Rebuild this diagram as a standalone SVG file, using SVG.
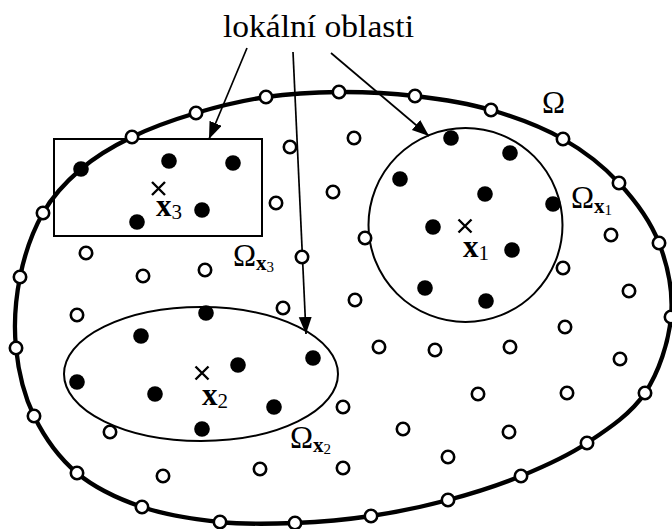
<svg xmlns="http://www.w3.org/2000/svg" width="672" height="529" viewBox="0 0 672 529">
<style>
.bd{fill:none;stroke:#000;stroke-width:4.3}
.reg{fill:none;stroke:#000;stroke-width:2}
.o{fill:#fff;stroke:#000;stroke-width:2.6}
.f{fill:#000}
.cr{stroke:#000;stroke-width:2.4}
.ar{stroke:#000;stroke-width:1.7;fill:none}
text{font-family:"Liberation Serif","Times New Roman",serif;fill:#000}
.b{font-weight:bold}
</style>
<defs>
<marker id="ah" markerUnits="userSpaceOnUse" markerWidth="18" markerHeight="14" refX="17" refY="6.5" orient="auto">
<path d="M0,0 L17,6.5 L0,13 Z" fill="#000"/>
</marker>
</defs>
<rect width="672" height="529" fill="#fff"/>
<g id="domain">
<path class="bd" d="M16,348 C13.67,324.83 15.5,299.5 20,277 C24.5,254.5 32.83,231 43,213 C53.17,195 66.17,181.67 81,169 C95.83,156.33 112.83,146.33 132,137 C151.17,127.67 173.67,119.67 196,113 C218.330,106.33 242.17,100.5 266,97 C289.83,93.5 314.17,92.17 339,92 C363.83,91.83 389.67,93 415,96 C440.33,99 466.33,102.83 491,110 C515.67,117.17 541.67,126.83 563,139 C584.33,151.17 603,165.67 619,183 C635,200.33 650.33,220.67 659,243 C667.67,265.33 673.33,292 671,317 C668.67,342 659,372 645,393 C631,414 607.67,429.17 587,443 C566.33,456.83 544.17,466.5 521,476 C497.83,485.5 473,493.33 448,500 C423,506.67 396.5,512.17 371,516 C345.5,519.83 320.17,522 295,523 C269.83,524 245.5,524.67 220,522 C194.5,519.33 165.83,515.17 142,507 C118.17,498.83 95,488.17 77,473 C59,457.83 44.17,436.83 34,416 C23.83,395.17 18.33,371.17 16,348 Z"/>
<text x="542" y="113" font-size="31">Ω</text>
</g>
<g id="region3">
<rect class="reg" x="54" y="139" width="208" height="97"/>
<text x="233" y="266" font-size="31">Ω<tspan class="b" font-size="21" dy="4">x</tspan><tspan font-size="15" dy="2">3</tspan></text>
</g>
<g id="region1">
<circle class="reg" cx="465.5" cy="225" r="97"/>
<text x="571" y="208" font-size="31">Ω<tspan class="b" font-size="21" dy="5">x</tspan><tspan font-size="15" dy="2">1</tspan></text>
</g>
<g id="region2">
<ellipse class="reg" cx="201" cy="374" rx="137" ry="67"/>
<text x="290" y="448" font-size="31">Ω<tspan class="b" font-size="21" dy="4">x</tspan><tspan font-size="15" dy="2">2</tspan></text>
</g>
<g id="boundary-nodes">
<circle class="o" cx="16" cy="348" r="6.2"/>
<circle class="o" cx="20" cy="277" r="6.2"/>
<circle class="o" cx="43" cy="213" r="6.2"/>
<circle class="f" cx="81" cy="169" r="7.8"/>
<circle class="o" cx="132" cy="137" r="6.2"/>
<circle class="o" cx="196" cy="113" r="6.2"/>
<circle class="o" cx="266" cy="97" r="6.2"/>
<circle class="o" cx="339" cy="92" r="6.2"/>
<circle class="o" cx="415" cy="96" r="6.2"/>
<circle class="o" cx="491" cy="110" r="6.2"/>
<circle class="o" cx="563" cy="139" r="6.2"/>
<circle class="o" cx="619" cy="183" r="6.2"/>
<circle class="o" cx="659" cy="243" r="6.2"/>
<circle class="o" cx="671" cy="317" r="6.2"/>
<circle class="o" cx="645" cy="393" r="6.2"/>
<circle class="o" cx="587" cy="443" r="6.2"/>
<circle class="o" cx="521" cy="476" r="6.2"/>
<circle class="o" cx="448" cy="500" r="6.2"/>
<circle class="o" cx="371" cy="516" r="6.2"/>
<circle class="o" cx="295" cy="523" r="6.2"/>
<circle class="o" cx="220" cy="522" r="6.2"/>
<circle class="o" cx="142" cy="507" r="6.2"/>
<circle class="o" cx="77" cy="473" r="6.2"/>
<circle class="o" cx="34" cy="416" r="6.2"/>
</g>
<g id="connectors">
<line class="ar" x1="247" y1="48" x2="209" y2="139" marker-end="url(#ah)"/>
<line class="ar" x1="293" y1="52" x2="306" y2="334" marker-end="url(#ah)"/>
<line class="ar" x1="331" y1="53" x2="429" y2="136" marker-end="url(#ah)"/>
</g>
<g id="interior-nodes">
<circle class="o" cx="290" cy="147" r="6.2"/>
<circle class="o" cx="354" cy="138" r="6.2"/>
<circle class="o" cx="333" cy="192" r="6.2"/>
<circle class="o" cx="276" cy="203" r="6.2"/>
<circle class="o" cx="365" cy="238" r="6.2"/>
<circle class="o" cx="302" cy="257" r="6.2"/>
<circle class="o" cx="86" cy="253" r="6.2"/>
<circle class="o" cx="143" cy="276" r="6.2"/>
<circle class="o" cx="205" cy="270" r="6.2"/>
<circle class="o" cx="77" cy="315" r="6.2"/>
<circle class="o" cx="283" cy="308" r="6.2"/>
<circle class="o" cx="110" cy="432" r="6.2"/>
<circle class="o" cx="163" cy="476" r="6.2"/>
<circle class="o" cx="260" cy="469" r="6.2"/>
<circle class="o" cx="355" cy="300" r="6.2"/>
<circle class="o" cx="379" cy="347" r="6.2"/>
<circle class="o" cx="435" cy="350" r="6.2"/>
<circle class="o" cx="510" cy="347" r="6.2"/>
<circle class="o" cx="563" cy="268" r="6.2"/>
<circle class="o" cx="629" cy="291" r="6.2"/>
<circle class="o" cx="611" cy="235" r="6.2"/>
<circle class="o" cx="565" cy="327" r="6.2"/>
<circle class="o" cx="620" cy="359" r="6.2"/>
<circle class="o" cx="478" cy="394" r="6.2"/>
<circle class="o" cx="567" cy="393" r="6.2"/>
<circle class="o" cx="343" cy="407" r="6.2"/>
<circle class="o" cx="403" cy="429" r="6.2"/>
<circle class="o" cx="509" cy="432" r="6.2"/>
<circle class="o" cx="448" cy="457" r="6.2"/>
<circle class="o" cx="343" cy="468" r="6.2"/>
</g>
<g id="nodes3">
<circle class="f" cx="169" cy="161" r="7.8"/>
<circle class="f" cx="233" cy="163" r="7.8"/>
<circle class="f" cx="202" cy="210" r="7.8"/>
<circle class="f" cx="137" cy="222" r="7.8"/>
<path class="cr" d="M152,182 L165,195 M165,182 L152,195"/>
<text x="156" y="216" font-size="31" class="b">x<tspan font-size="21" font-weight="normal" dy="3">3</tspan></text>
</g>
<g id="nodes1">
<circle class="f" cx="451" cy="138" r="7.8"/>
<circle class="f" cx="510" cy="153" r="7.8"/>
<circle class="f" cx="400" cy="179" r="7.8"/>
<circle class="f" cx="485" cy="194" r="7.8"/>
<circle class="f" cx="553" cy="204" r="7.8"/>
<circle class="f" cx="433" cy="227" r="7.8"/>
<circle class="f" cx="512" cy="250" r="7.8"/>
<circle class="f" cx="425" cy="288" r="7.8"/>
<circle class="f" cx="486" cy="301" r="7.8"/>
<path class="cr" d="M458.5,219.5 L471.5,232.5 M471.5,219.5 L458.5,232.5"/>
<text x="463" y="257" font-size="31" class="b">x<tspan font-size="21" font-weight="normal" dy="3">1</tspan></text>
</g>
<g id="nodes2">
<circle class="f" cx="206" cy="313" r="7.8"/>
<circle class="f" cx="141" cy="336" r="7.8"/>
<circle class="f" cx="77" cy="382" r="7.8"/>
<circle class="f" cx="155" cy="394" r="7.8"/>
<circle class="f" cx="238" cy="365" r="7.8"/>
<circle class="f" cx="313" cy="358" r="7.8"/>
<circle class="f" cx="274" cy="407" r="7.8"/>
<circle class="f" cx="202" cy="429" r="7.8"/>
<path class="cr" d="M195.5,366.5 L208.5,379.5 M208.5,366.5 L195.5,379.5"/>
<text x="202" y="405" font-size="31" class="b">x<tspan font-size="21" font-weight="normal" dy="3">2</tspan></text>
</g>
<g id="title">
<text x="223" y="37" font-size="31" textLength="191" lengthAdjust="spacingAndGlyphs">lokální oblasti</text>
</g>
</svg>
